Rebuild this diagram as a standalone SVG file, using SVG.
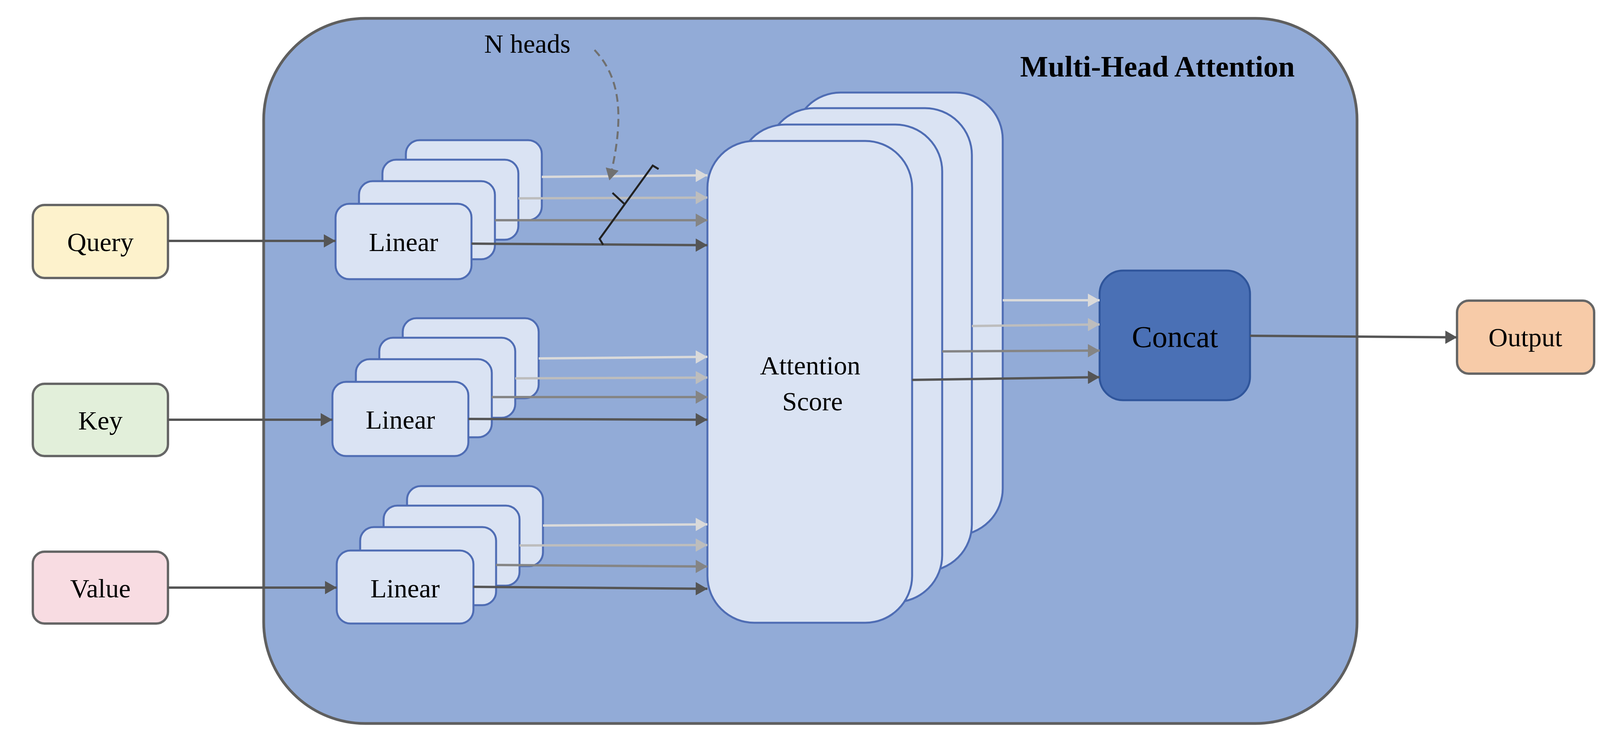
<svg xmlns="http://www.w3.org/2000/svg" width="4133" height="1903" viewBox="0 0 4133 1903">
<style>
text{font-family:"Liberation Serif","Times New Roman",serif;fill:#000;text-anchor:middle;dominant-baseline:central}
.in{stroke:#666;stroke-width:6}
.lin{fill:#DAE3F3;stroke:#4F6DB4;stroke-width:5}
.c1{stroke:#DADADA;stroke-width:6;fill:none}
.c2{stroke:#BDBDBD;stroke-width:6;fill:none}
.c3{stroke:#858585;stroke-width:6;fill:none}
.c4{stroke:#555;stroke-width:6;fill:none}
.t{font-size:68px}
</style>
<defs>
<marker id="m1" markerUnits="userSpaceOnUse" markerWidth="34" markerHeight="34" refX="30" refY="17" orient="auto"><path d="M0,0L30,17L0,34Z" fill="#DADADA"/></marker>
<marker id="m2" markerUnits="userSpaceOnUse" markerWidth="34" markerHeight="34" refX="30" refY="17" orient="auto"><path d="M0,0L30,17L0,34Z" fill="#BDBDBD"/></marker>
<marker id="m3" markerUnits="userSpaceOnUse" markerWidth="34" markerHeight="34" refX="30" refY="17" orient="auto"><path d="M0,0L30,17L0,34Z" fill="#858585"/></marker>
<marker id="m4" markerUnits="userSpaceOnUse" markerWidth="34" markerHeight="34" refX="30" refY="17" orient="auto"><path d="M0,0L30,17L0,34Z" fill="#555"/></marker>
<marker id="md" markerUnits="userSpaceOnUse" markerWidth="34" markerHeight="34" refX="30" refY="17" orient="auto"><path d="M0,0L30,17L0,34Z" fill="#707070"/></marker>
</defs>
<g id="container">
<rect x="675" y="47" width="2799" height="1806" rx="260" fill="#92ABD7" stroke="#5f5f5f" stroke-width="7"/>
<text x="2963" y="170" style="font-size:76px;font-weight:bold">Multi-Head  Attention</text>
</g>
<g id="query"><rect x="84" y="525" width="346" height="187" rx="30" fill="#FDF2CC" class="in"/><text x="257" y="620" class="t">Query</text></g>
<g id="key"><rect x="84" y="983" width="346" height="185" rx="30" fill="#E2EFDA" class="in"/><text x="257" y="1077" class="t">Key</text></g>
<g id="value"><rect x="84" y="1413" width="346" height="184" rx="30" fill="#F8DCE2" class="in"/><text x="257" y="1507" class="t">Value</text></g>
<g id="output"><rect x="3730" y="770" width="351" height="187" rx="30" fill="#F7CBA8" class="in"/><text x="3905" y="864" class="t">Output</text></g>
<g id="concat"><rect x="2815" y="693" width="385" height="332" rx="60" fill="#4A70B5" stroke="#2F559B" stroke-width="5"/><text x="3008" y="862" style="font-size:78px">Concat</text></g>
<g id="linear-q">
<rect class="lin" x="1039" y="359" width="348" height="205" rx="35"/>
<rect class="lin" x="979" y="409" width="348" height="205" rx="35"/>
<rect class="lin" x="919" y="464" width="348" height="200" rx="35"/>
<rect class="lin" x="859" y="522" width="348" height="193" rx="35"/>
<text x="1033" y="620" class="t">Linear</text>
</g>
<g id="linear-k">
<rect class="lin" x="1031" y="815" width="348" height="205" rx="35"/>
<rect class="lin" x="971" y="865" width="348" height="205" rx="35"/>
<rect class="lin" x="911" y="920" width="348" height="200" rx="35"/>
<rect class="lin" x="851" y="978" width="348" height="190" rx="35"/>
<text x="1025" y="1075" class="t">Linear</text>
</g>
<g id="linear-v">
<rect class="lin" x="1042" y="1245" width="348" height="205" rx="35"/>
<rect class="lin" x="982" y="1295" width="348" height="205" rx="35"/>
<rect class="lin" x="922" y="1350" width="348" height="200" rx="35"/>
<rect class="lin" x="862" y="1410" width="350" height="187" rx="35"/>
<text x="1037" y="1507" class="t">Linear</text>
</g>
<g id="attention">
<rect class="lin" x="2032" y="237" width="535" height="1134" rx="120"/>
<rect class="lin" x="1964" y="277" width="524" height="1186" rx="120"/>
<rect class="lin" x="1890" y="319" width="522" height="1223" rx="120"/>
<rect class="lin" x="1811" y="361" width="524" height="1234" rx="120"/>
<text x="2074" y="936" class="t">Attention</text>
<text x="2080" y="1028" class="t">Score</text>
</g>
<g id="connectors">
<line x1="430" y1="617" x2="859" y2="617" class="c4" marker-end="url(#m4)"/>
<line x1="430" y1="1075" x2="851" y2="1075" class="c4" marker-end="url(#m4)"/>
<line x1="430" y1="1505" x2="862" y2="1505" class="c4" marker-end="url(#m4)"/>
<line x1="1387" y1="453" x2="1811" y2="449" class="c1" marker-end="url(#m1)"/>
<line x1="1327" y1="508" x2="1811" y2="506" class="c2" marker-end="url(#m2)"/>
<line x1="1267" y1="564" x2="1811" y2="564" class="c3" marker-end="url(#m3)"/>
<line x1="1207" y1="624" x2="1811" y2="628" class="c4" marker-end="url(#m4)"/>
<line x1="1379" y1="918" x2="1811" y2="914" class="c1" marker-end="url(#m1)"/>
<line x1="1319" y1="969" x2="1811" y2="967" class="c2" marker-end="url(#m2)"/>
<line x1="1259" y1="1017" x2="1811" y2="1017" class="c3" marker-end="url(#m3)"/>
<line x1="1199" y1="1073" x2="1811" y2="1075" class="c4" marker-end="url(#m4)"/>
<line x1="1390" y1="1346" x2="1811" y2="1343" class="c1" marker-end="url(#m1)"/>
<line x1="1330" y1="1397" x2="1811" y2="1396" class="c2" marker-end="url(#m2)"/>
<line x1="1270" y1="1447" x2="1811" y2="1451" class="c3" marker-end="url(#m3)"/>
<line x1="1212" y1="1503" x2="1811" y2="1508" class="c4" marker-end="url(#m4)"/>
<line x1="2567" y1="769" x2="2815" y2="769" class="c1" marker-end="url(#m1)"/>
<line x1="2488" y1="835" x2="2815" y2="831" class="c2" marker-end="url(#m2)"/>
<line x1="2412" y1="900" x2="2815" y2="898" class="c3" marker-end="url(#m3)"/>
<line x1="2335" y1="973" x2="2815" y2="966" class="c4" marker-end="url(#m4)"/>
<line x1="3200" y1="860" x2="3730" y2="864" class="c4" marker-end="url(#m4)"/>
<path d="M1522,128 C1580,190 1605,280 1560,462" fill="none" stroke="#707070" stroke-width="5" stroke-dasharray="20,12" marker-end="url(#md)"/>
<path d="M1544,627 L1535,612 L1671,424 L1686,433 M1568,494 L1598,522" fill="none" stroke="#222" stroke-width="5"/>
<text x="1350" y="112" class="t">N  heads</text>
</g>
</svg>
